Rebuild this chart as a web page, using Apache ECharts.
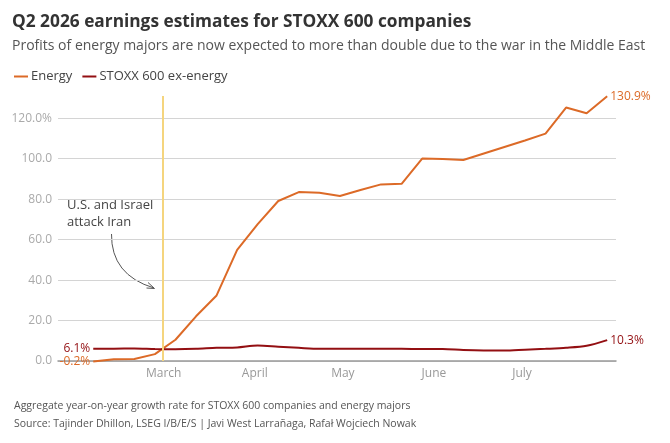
<!DOCTYPE html>
<html>
<head>
<meta charset="utf-8">
<script src="https://cdn.jsdelivr.net/npm/echarts@6/dist/echarts.min.js"></script>
<style>
  html, body { margin: 0; padding: 0; background: #fff; }
  #main { width: 670px; height: 443px; }
</style>
</head>
<body>
<div id="main"></div>
<script>
// weekly estimate dates
var dates = [
  "2026-02-05", "2026-02-12", "2026-02-19", "2026-02-26",
  "2026-03-05", "2026-03-12", "2026-03-19", "2026-03-26",
  "2026-04-02", "2026-04-09", "2026-04-16", "2026-04-23", "2026-04-30",
  "2026-05-07", "2026-05-14", "2026-05-21", "2026-05-28",
  "2026-06-04", "2026-06-11", "2026-06-18", "2026-06-25",
  "2026-07-02", "2026-07-09", "2026-07-16", "2026-07-23", "2026-07-30"
];
var energy = [
  -0.2, 0.9, 1.0, 3.4, 10.5, 22.1, 32.4, 54.9, 67.7, 79.1, 83.5, 83.2, 81.6,
  84.5, 87.3, 87.6, 100.1, 99.8, 99.4, 102.6, 105.8, 109.0, 112.4, 125.3, 122.5, 130.9
];
var exEnergy = [
  6.1, 6.1, 6.2, 5.9, 5.8, 6.0, 6.5, 6.7, 7.7, 7.1, 6.5, 6.0, 6.0,
  6.0, 6.1, 6.0, 5.9, 5.9, 5.4, 5.2, 5.2, 5.6, 6.0, 6.5, 7.5, 10.3
];
var monthTicks = ["2026-03-01", "2026-04-01", "2026-05-01", "2026-06-01", "2026-07-01"];
var monthNames = ["March", "April", "May", "June", "July"];
var yTicks = [0, 20, 40, 60, 80, 100, 120];
var attackDate = "2026-02-28T16:00:00";

var ORANGE = "#dc6a27";
var DARKRED = "#930f12";
var FONT = "'Open Sans', 'Noto Sans', sans-serif";

function ts(d) {
  return Date.parse((d.length > 10 ? d : d + "T00:00:00") + "Z");
}
var monthTs = monthTicks.map(ts);

function toSeries(values, color) {
  var last = values.length - 1;
  return values.map(function (v, i) {
    var item = { value: [ts(dates[i]), v] };
    if (i === 0 || i === last) {
      item.label = {
        show: true,
        position: i === 0 ? "left" : "right",
        distance: 3,
        color: color,
        fontSize: 12,
        fontFamily: FONT,
        formatter: function (p) { return p.value[1].toFixed(1) + "%"; }
      };
    }
    return item;
  });
}

var myChart = echarts.init(document.getElementById("main"));
myChart.setOption({
  animation: false,
  textStyle: { fontFamily: FONT },
  title: [
    {
      text: "Q2 2026 earnings estimates for STOXX 600 companies",
      subtext: "Profits of energy majors are now expected to more than double due to the war in the Middle East",
      left: 7,
      top: 9,
      itemGap: 8,
      textStyle: { fontSize: 17.3, fontWeight: "bold", color: "#333", fontFamily: FONT },
      subtextStyle: { fontSize: 14, color: "#555", fontFamily: FONT }
    },
    {
      text: "Aggregate year-on-year growth rate for STOXX 600 companies and energy majors",
      subtext: "Source: Tajinder Dhillon, LSEG I/B/E/S | Javi West Larrañaga, Rafał Wojciech Nowak",
      left: 9,
      top: 396,
      itemGap: 7,
      textStyle: { fontSize: 10.5, fontWeight: "normal", color: "#555", fontFamily: FONT },
      subtextStyle: { fontSize: 10.5, color: "#555", fontFamily: FONT }
    }
  ],
  legend: {
    left: 9,
    top: 65,
    icon: "rect",
    itemWidth: 14,
    itemHeight: 2,
    itemGap: 10,
    textStyle: { fontSize: 13, color: "#444", fontFamily: FONT, padding: [0, 0, 0, -2] },
    data: ["Energy", "STOXX 600 ex-energy"]
  },
  grid: { left: 58, right: 54, top: 96, bottom: 82 },
  xAxis: {
    type: "value",
    min: ts("2026-01-24"),
    max: ts("2026-08-02"),
    axisLine: { show: true, onZero: true, lineStyle: { color: "#999", width: 1.5 } },
    axisTick: { show: false },
    splitLine: { show: false },
    axisLabel: {
      customValues: monthTs,
      color: "#999",
      fontSize: 12,
      margin: 7,
      formatter: function (v) {
        var idx = monthTs.indexOf(v);
        return idx >= 0 ? monthNames[idx] : "";
      }
    }
  },
  yAxis: {
    type: "value",
    min: 0,
    max: 131,
    interval: 20,
    axisLine: { show: false },
    axisTick: { show: false },
    splitLine: { show: true, showMaxLine: false, lineStyle: { color: "#d4d4d4" } },
    axisLabel: {
      color: "#aaa",
      fontSize: 12,
      margin: 6,
      showMaxLabel: false,
      formatter: function (v) {
        if (yTicks.indexOf(v) < 0) return "";
        return v === yTicks[yTicks.length - 1] ? v.toFixed(1) + "%" : v.toFixed(1);
      }
    }
  },
  graphic: [
    {
      type: "text",
      left: 67,
      top: 197,
      style: {
        text: "U.S. and Israel\nattack Iran",
        fontSize: 13,
        lineHeight: 17,
        fill: "#444",
        fontFamily: FONT
      }
    },
    {
      type: "bezierCurve",
      shape: { x1: 111.5, y1: 234, cpx1: 111, cpy1: 275, x2: 154, y2: 288 },
      style: { stroke: "#555", lineWidth: 1, fill: null }
    },
    {
      type: "polyline",
      shape: { points: [[148, 282.5], [154.5, 288.5], [146.5, 288]] },
      style: { stroke: "#555", lineWidth: 1, fill: null }
    }
  ],
  series: [
    {
      name: "Energy",
      type: "line",
      color: ORANGE,
      symbol: "circle",
      symbolSize: 0,
      showSymbol: true,
      showAllSymbol: true,
      clip: false,
      lineStyle: { width: 2, color: ORANGE },
      data: toSeries(energy, ORANGE),
      z: 3,
      markLine: {
        silent: true,
        symbol: "none",
        label: { show: false },
        lineStyle: { color: "#f5d57e", width: 2, type: "solid" },
        data: [{ xAxis: ts(attackDate) }]
      }
    },
    {
      name: "STOXX 600 ex-energy",
      type: "line",
      color: DARKRED,
      symbol: "circle",
      symbolSize: 0,
      showSymbol: true,
      showAllSymbol: true,
      clip: false,
      smooth: 0.3,
      lineStyle: { width: 2, color: DARKRED },
      data: toSeries(exEnergy, DARKRED),
      z: 4
    }
  ]
});
</script>
</body>
</html>
